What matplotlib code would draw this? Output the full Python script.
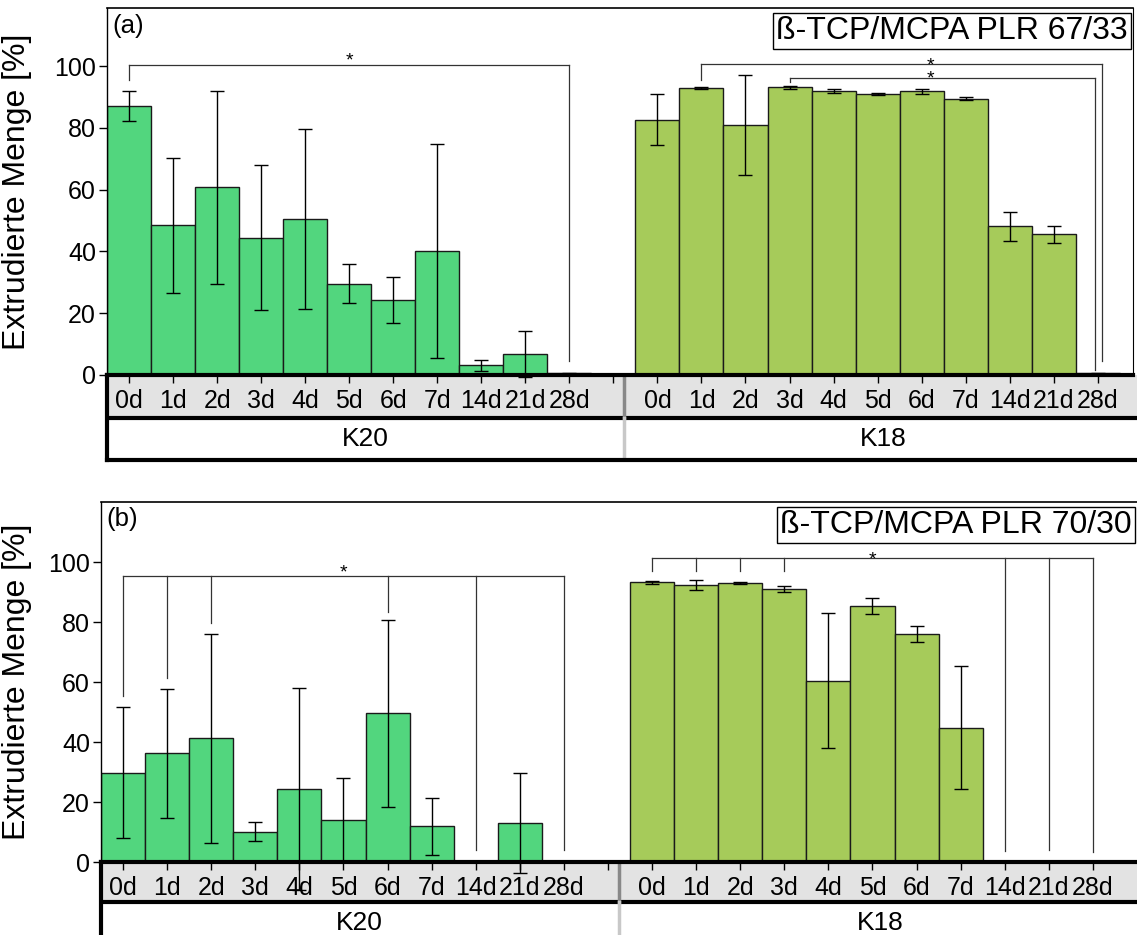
import matplotlib
matplotlib.use('Agg')
import matplotlib.pyplot as plt

plt.rcParams['font.family'] = ['Liberation Sans', 'DejaVu Sans']

days = ['0d', '1d', '2d', '3d', '4d', '5d', '6d', '7d', '14d', '21d', '28d']
groups = ['K20', 'K18']

# panel (a): beta-TCP/MCPA PLR 67/33
a_k20 = [87.0, 48.4, 60.8, 44.5, 50.5, 29.5, 24.2, 40.1, 3.2, 6.9, 0.5]
a_k20_err = [4.9, 22.0, 31.2, 23.6, 29.0, 6.3, 7.5, 34.7, 1.8, 7.5, 0.3]
a_k18 = [82.7, 93.0, 80.8, 93.2, 92.0, 90.9, 91.8, 89.4, 48.1, 45.5, 0.5]
a_k18_err = [8.2, 0.3, 16.2, 0.5, 0.7, 0.3, 0.8, 0.5, 4.8, 2.7, 0.2]

# panel (b): beta-TCP/MCPA PLR 70/30
b_k20 = [29.8, 36.2, 41.3, 10.1, 24.3, 14.0, 49.6, 11.9, 0, 13.0, 0]
b_k20_err = [21.9, 21.5, 34.8, 3.2, 33.7, 14.0, 31.2, 9.4, 0, 16.7, 0]
b_k18 = [93.3, 92.3, 93.0, 91.0, 60.4, 85.3, 76.0, 44.8, 0, 0, 0]
b_k18_err = [0.5, 1.7, 0.3, 1.1, 22.5, 2.6, 2.6, 20.5, 0, 0, 0]

# significance brackets: (height of line, [(position, leg end)])
a_brackets = [
    (100.3, [(0, 95.5), (10, 4.5)]),
    (100.8, [(13, 95.6), (22.1, 4.5)]),
    (96.1, [(15, 94.8), (21.93, 1.6)]),
]
a_stars = [(5, 101.6, '*'), (18.2, 97.9, '*\n*')]
b_brackets = [
    (95.5, [(0, 55.5), (1, 61.4), (2, 79.7), (6, 83.3), (8, 4.1), (10, 3.9)]),
    (101.5, [(12, 97.0), (13, 97.0), (14, 97.0), (15, 97.0), (20, 3.7), (21, 3.9), (22, 3.5)]),
]
b_stars = [(5, 96.5, '*'), (17, 100.8, '*')]

W, H = 1137, 935
K20_COLOR = '#52d67e'
K18_COLOR = '#a6cb5a'
BAND_COLOR = '#e3e3e3'
OFFSET = 12  # K18 starts after one empty slot
SEP = 11.24

fig = plt.figure(figsize=(W / 100, H / 100), dpi=100)


def box(x0, y0, x1, y1):
    return [x0 / W, 1 - y1 / H, (x1 - x0) / W, (y1 - y0) / H]


def draw_panel(left, right, top, zero, band_mid, band_bot, ymax, xmax,
               k20, k20_err, k18, k18_err, brackets, stars, letter, title, right_spine):
    unit = (right - left) / (xmax + 0.5)
    # band with tick labels and group row
    band_right = W + 5
    axb = fig.add_axes(box(left, zero, band_right, band_bot))
    axb.set_zorder(0)
    axb.set_xlim(-0.5, -0.5 + (band_right - left) / unit)
    frac_mid = (band_bot - band_mid) / (band_bot - zero)
    axb.set_ylim(0, 1)
    axb.axhspan(frac_mid, 1, color=BAND_COLOR, lw=0)
    axb.axhline(frac_mid, color='black', lw=3)
    axb.axvline(SEP, ymin=frac_mid, ymax=1, color='#888888', lw=2.5)
    axb.axvline(SEP, ymin=0, ymax=frac_mid, color='#c8c8c8', lw=2.5)
    for s in ['top', 'right']:
        axb.spines[s].set_visible(False)
    axb.spines['left'].set_linewidth(3)
    axb.spines['bottom'].set_linewidth(3)
    axb.set_xticks([])
    axb.set_yticks([])
    axb.text((-0.5 + SEP) / 2, frac_mid / 2, groups[0], ha='center', va='center', fontsize=19)
    axb.text((SEP + axb.get_xlim()[1]) / 2, frac_mid / 2, groups[1], ha='center', va='center', fontsize=19)

    ax = fig.add_axes(box(left, top, right, zero))
    ax.set_zorder(1)
    x20 = [i for i in range(len(days))]
    x18 = [i + OFFSET for i in range(len(days))]
    for xs, vals, errs, col in [(x20, k20, k20_err, K20_COLOR), (x18, k18, k18_err, K18_COLOR)]:
        xs_ = [x for x, v in zip(xs, vals) if v > 0]
        vs_ = [v for v in vals if v > 0]
        es_ = [e for v, e in zip(vals, errs) if v > 0]
        ax.bar(xs_, vs_, width=1.0, color=col, edgecolor='#1a1a1a', linewidth=1.0, zorder=2)
        ax.errorbar(xs_, vs_, yerr=es_, fmt='none', ecolor='black', elinewidth=1.0,
                    capsize=5, capthick=1.0, zorder=3, clip_on=False)

    for ybar, legs in brackets:
        xs = [p for p, _ in legs]
        ax.plot([min(xs), max(xs)], [ybar, ybar], color='#333333', lw=0.9, zorder=4)
        for p, yend in legs:
            ax.plot([p, p], [ybar, yend], color='#333333', lw=0.9, zorder=4)
    for sx, sy, s in stars:
        ax.text(sx, sy, s, ha='center', va='center', fontsize=14, linespacing=0.72)

    ax.set_xlim(-0.5, xmax)
    ax.set_ylim(0, ymax)
    ax.set_yticks([0, 20, 40, 60, 80, 100])
    ax.set_xticks(list(range(OFFSET + len(days))))
    ax.set_xticklabels(days + [''] + days)
    ax.tick_params(axis='both', direction='out', length=6, width=1, labelsize=18)
    ax.tick_params(axis='x', pad=4)
    ax.tick_params(axis='y', pad=2)
    ax.spines['bottom'].set_linewidth(3)
    ax.spines['left'].set_linewidth(1)
    ax.spines['top'].set_linewidth(1.2)
    ax.spines['right'].set_visible(right_spine)
    ax.set_ylabel('Extrudierte Menge [%]', fontsize=23)
    ax.yaxis.set_label_coords(-(left - 32) / (right - left), 0.5)
    ax.text(0.005, 0.985, letter, transform=ax.transAxes, ha='left', va='top', fontsize=18.5)
    ax.text(0.995, 0.978, title, transform=ax.transAxes, ha='right', va='top', fontsize=23,
            bbox=dict(boxstyle='square,pad=0.1', fc='white', ec='black', lw=1))
    return ax


draw_panel(107, 1133, 8, 375, 418, 460, 118.8, 22.8,
           a_k20, a_k20_err, a_k18, a_k18_err, a_brackets, a_stars,
           '(a)', 'ß-TCP/MCPA PLR 67/33', True)
draw_panel(101, 1137, 502, 862, 902, 945, 120, 23.0,
           b_k20, b_k20_err, b_k18, b_k18_err, b_brackets, b_stars,
           '(b)', 'ß-TCP/MCPA PLR 70/30', False)

fig.savefig('out.png', dpi=100)
